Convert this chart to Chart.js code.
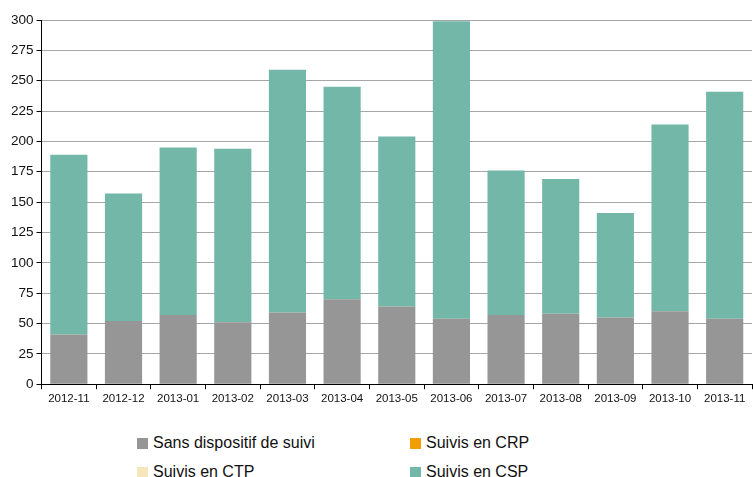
<!DOCTYPE html>
<html><head><meta charset="utf-8">
<script src="https://cdn.jsdelivr.net/npm/chart.js@4/dist/chart.umd.min.js"></script>
<style>
html,body{margin:0;padding:0;background:#fff;overflow:hidden}
#wrap{position:relative;width:753px;height:477px;overflow:hidden;font-family:"Liberation Sans",Arial,sans-serif}
#c{position:absolute;left:0;top:0}
.lg{position:absolute;font-size:16px;color:#111;white-space:nowrap;line-height:18px}
.lg i{position:absolute;left:-16px;top:4px;width:11px;height:11px}
</style></head><body>
<div id="wrap"><canvas id="c" width="753" height="409"></canvas></div>
<script>
const categories = ["2012-11","2012-12","2013-01","2013-02","2013-03","2013-04","2013-05","2013-06","2013-07","2013-08","2013-09","2013-10","2013-11"];
const sansDispositif = [41,52,57,51,59,70,64,54,57,58,55,60,54];
const suivisCRP = [0,0,0,0,0,0,0,0,0,0,0,0,0];
const suivisCTP = [0,0,0,0,0,0,0,0,0,0,0,0,0];
const suivisCSP = [148,105,138,143,200,175,140,245,119,111,86,154,187];
const yTicks = [0,25,50,75,100,125,150,175,200,225,250,275,300];
const seriesNames = ["Sans dispositif de suivi","Suivis en CRP","Suivis en CTP","Suivis en CSP"];
const seriesColors = ["#969696","#f29f05","#f5e6bb","#73b7a8"];

const mk = (i, data) => ({label: seriesNames[i], data, backgroundColor: seriesColors[i], borderWidth: 0,
  categoryPercentage: 1, barPercentage: 0.68});

new Chart(document.getElementById('c'), {
  type: 'bar',
  data: { labels: categories, datasets: [mk(0,sansDispositif), mk(1,suivisCRP), mk(2,suivisCTP), mk(3,suivisCSP)] },
  options: {
    responsive: false, animation: false,
    layout: { padding: { left: 8, right: 1, top: 20, bottom: 0 } },
    plugins: { legend: { display: false }, tooltip: { enabled: false } },
    scales: {
      x: { stacked: true, offset: true,
        grid: { offset: true, drawOnChartArea: false, drawTicks: true, tickLength: 5, tickColor: '#000' },
        border: { display: true, color: '#000', width: 1 },
        ticks: { color: '#111', font: { family: 'Liberation Sans', size: 11.5 }, maxRotation: 0, autoSkip: false, padding: 3 } },
      y: { stacked: true, min: 0, max: 300,
        afterBuildTicks: s => { s.ticks = yTicks.map(v => ({value: v})); },
        grid: { color: '#a6a6a6', lineWidth: 1, drawTicks: true, tickLength: 5, tickColor: '#000' },
        border: { display: true, color: '#000', width: 1 },
        ticks: { color: '#111', font: { family: 'Liberation Sans', size: 13.5 }, padding: 3 } }
    }
  }
});

const wrap = document.getElementById('wrap');
const pos = [[153,434],[426,434],[153,463],[426,463]];
seriesNames.forEach((n,i) => {
  const d = document.createElement('div');
  d.className = 'lg';
  d.style.left = pos[i][0] + 'px'; d.style.top = pos[i][1] + 'px';
  d.innerHTML = '<i style="background:' + seriesColors[i] + '"></i>' + n;
  wrap.appendChild(d);
});
</script>
</body></html>
